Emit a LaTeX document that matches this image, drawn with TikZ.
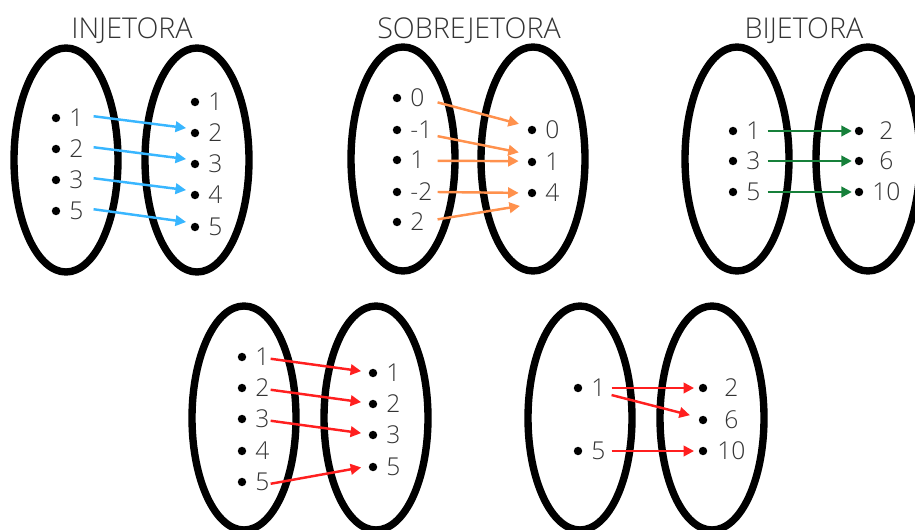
\documentclass[tikz,border=0pt]{standalone}
\usepackage{fontspec}
\IfFontExistsTF{Open Sans Light}{\setmainfont{Open Sans Light}}{\setmainfont{Open Sans}}
\usetikzlibrary{arrows.meta}

\definecolor{ink}{HTML}{333333}
\definecolor{mapblue}{HTML}{38B6FF}
\definecolor{maporange}{HTML}{FF914D}
\definecolor{mapgreen}{HTML}{16803A}
\definecolor{mapred}{HTML}{FF1F1F}

% width and alignment of the number labels of the current set
\def\nw{10pt}
\def\na{left}

% one element of a set: a bullet and its number
\newcommand\mkelem[5][]{%
  \node[dot] (#2d) at (#3,#4) {};
  \node[num,#1] (#2) at ({#3+13},#4) {#5};
}

\tikzset{
  setline/.style={line width=4.2pt, draw=black},
  dot/.style={circle, fill=black, inner sep=0pt, minimum size=4.8pt},
  num/.style={anchor=west, inner sep=0pt, text width=\nw, align=\na,
    font=\fontsize{14}{16}\selectfont, text=ink},
  heading/.style={anchor=base, inner sep=0pt, font=\fontsize{16.3}{19}\selectfont, text=ink},
  map/.style={draw=#1, line width=1.4pt, -{Triangle[length=6pt,width=6pt]}},
}

\begin{document}
\begin{tikzpicture}[x=0.02cm, y=-0.02cm]
\useasboundingbox (0,0) rectangle (915,530);

% ---------------- sets ----------------
\foreach \cx/\cy in {66/160, 197/160, 403/159, 533/159, 737/159, 868/159,
                     244/418, 376/418, 580/418, 712/418}
  \draw[setline] (\cx,\cy) ellipse [x radius=52, y radius=112];

% ---------------- headings ----------------
\node[heading] (tInj) at (132,39) {INJETORA};
\node[heading] (tSob) at (469,39) {SOBREJETORA};
\node[heading] (tBij) at (804,39) {BIJETORA};

% ---------------- injetora ----------------
\def\nw{13.6pt}
\mkelem{ia1}{56}{118}{1}
\mkelem{ia2}{56}{149}{2}
\mkelem{ia3}{56}{180}{3}
\mkelem{ia5}{56}{211}{5}
\def\nw{10pt}
\mkelem{ib1}{195}{102}{1}
\mkelem{ib2}{195}{133}{2}
\mkelem{ib3}{195}{164}{3}
\mkelem{ib4}{195}{195}{4}
\mkelem{ib5}{195}{227}{5}
\foreach \s/\t in {ia1/ib2, ia2/ib3, ia3/ib4, ia5/ib5}
  \draw[map=mapblue, shorten >=2.5pt] ([yshift=1pt]\s.east) -- ([yshift=2.5pt]\t d.west);

% ---------------- sobrejetora ----------------
\def\nw{15.3pt}
\mkelem{sa0}{397}{98}{0}
\mkelem{sam1}{397}{130}{-1}
\mkelem{sa1}{397}{160}{1}
\mkelem{sam2}{397}{192}{-2}
\mkelem{sa2}{397}{222}{2}
\def\nw{10pt}
\mkelem{sb0}{532}{130}{0}
\mkelem{sb1}{532}{162}{1}
\mkelem{sb4}{532}{193}{4}
\coordinate (sEnd) at (526,205);
\draw[map=maporange, shorten >=5pt] ([yshift=-2.5pt]sa0.east) -- ([yshift=2.2pt]sb0d.west);
\draw[map=maporange, shorten >=5pt] ([yshift=-3.5pt]sam1.east) -- ([yshift=4.5pt]sb1d.west);
\draw[map=maporange, shorten >=5pt] ([yshift=-0.5pt]sa1.east) -- ([yshift=0.5pt]sb1d.west);
\draw[map=maporange, shorten >=5pt] (sam2.east) -- (sb4d.west);
\draw[map=maporange, shorten >=3.5pt] ([yshift=1.5pt]sa2.east) -- (sEnd);

% ---------------- bijetora ----------------
\def\nw{11.9pt}
\mkelem{ba1}{733}{131}{1}
\mkelem{ba3}{733}{161}{3}
\mkelem{ba5}{733}{192}{5}
\def\nw{15.9pt}\def\na{center}
\mkelem{bb2}{859}{131}{2}
\mkelem{bb6}{859}{161}{6}
\mkelem{bb10}{859}{192}{10}
\def\na{left}
\foreach \s/\t in {ba1/bb2, ba3/bb6, ba5/bb10}
  \draw[map=mapgreen, shorten >=1.5pt] (\s.east) -- (\t d.west);

% ---------------- lower left ----------------
\def\nw{8.5pt}
\mkelem{ca1}{242}{357}{1}
\mkelem{ca2}{242}{388}{2}
\mkelem{ca3}{242}{419}{3}
\mkelem{ca4}{242}{451}{4}
\mkelem{ca5}{242}{482}{5}
\def\nw{10pt}
\mkelem{cb1}{373}{373}{1}
\mkelem{cb2}{373}{404}{2}
\mkelem{cb3}{373}{435}{3}
\mkelem{cb5}{373}{467}{5}
\foreach \s/\t in {ca1/cb1, ca2/cb2, ca3/cb3, ca5/cb5}
  \draw[map=mapred, shorten >=4.2pt] ([yshift=-1pt]\s.east) -- ([yshift=0.5pt]\t d.west);

% ---------------- lower right ----------------
\def\nw{11.3pt}
\mkelem{da1}{578}{388}{1}
\mkelem{da5}{578}{451}{5}
\def\nw{17pt}\def\na{center}
\mkelem{db2}{703}{388}{2}
\mkelem{db6}{703}{420}{6}
\mkelem{db10}{703}{451}{10}
\def\na{left}
\draw[map=mapred, shorten >=2.5pt] (da1.east) -- (db2d.west);
\draw[map=mapred, shorten >=5pt] ([yshift=-4pt]da1.east) -- ([yshift=1.5pt]db6d.west);
\draw[map=mapred, shorten >=2.5pt] (da5.east) -- (db10d.west);
\end{tikzpicture}
\end{document}
